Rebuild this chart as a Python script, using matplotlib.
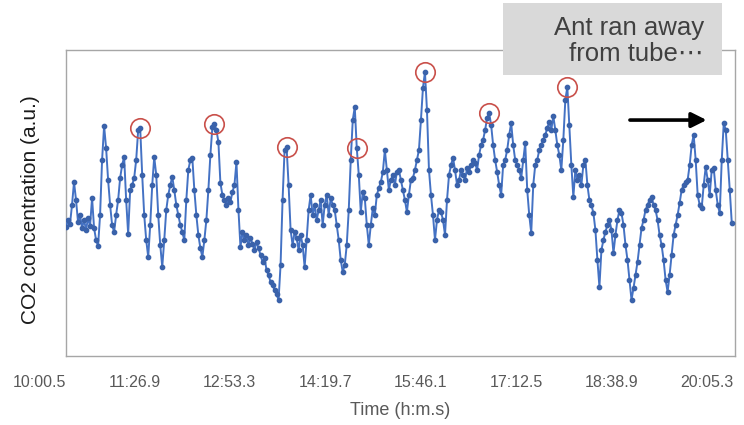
import numpy as np
import matplotlib
matplotlib.use('Agg')
from matplotlib import pyplot as plt
from matplotlib import transforms
from matplotlib.patches import Rectangle

# CO2 readings (a.u.), one every ~1.8 s
co2 = [129, 136, 132, 151, 174, 156, 134, 141, 128, 136, 126, 138, 130, 158, 128, 116,
       110, 141, 196, 230, 208, 176, 151, 131, 124, 141, 156, 178, 191, 199, 156, 122,
       166, 171, 178, 196, 226, 228, 181, 141, 116, 99, 131, 171, 199, 181, 141, 111,
       89, 116, 146, 161, 171, 179, 166, 151, 141, 131, 124, 116, 156, 186, 196, 198,
       166, 141, 121, 108, 99, 116, 136, 166, 201, 229, 232, 226, 214, 173, 161, 156,
       151, 158, 154, 164, 171, 194, 146, 109, 124, 116, 121, 111, 118, 112, 106, 114,
       108, 101, 94, 98, 86, 81, 74, 71, 66, 62, 56, 91, 156, 206, 209, 171,
       126, 111, 124, 118, 106, 121, 111, 89, 116, 146, 161, 141, 151, 136, 146, 156,
       131, 151, 161, 141, 158, 151, 146, 131, 116, 96, 84, 91, 111, 146, 196, 236,
       249, 208, 181, 144, 164, 158, 131, 111, 131, 148, 141, 161, 168, 174, 184, 206,
       186, 166, 176, 181, 171, 184, 186, 176, 166, 156, 144, 161, 176, 178, 186, 196,
       206, 236, 268, 284, 246, 186, 161, 141, 116, 136, 146, 144, 136, 121, 156, 181,
       191, 198, 186, 171, 176, 186, 181, 176, 188, 184, 191, 196, 193, 186, 201, 211,
       216, 226, 238, 243, 231, 211, 196, 184, 171, 161, 191, 196, 206, 221, 233, 211,
       196, 191, 186, 178, 196, 213, 166, 141, 123, 171, 191, 196, 206, 211, 216, 221,
       228, 234, 226, 240, 226, 211, 201, 186, 216, 256, 269, 231, 191, 159, 186, 176,
       181, 171, 191, 196, 171, 156, 151, 143, 126, 96, 69, 106, 116, 124, 131, 136,
       126, 103, 121, 136, 146, 143, 131, 111, 96, 76, 56, 68, 81, 94, 111, 128,
       136, 146, 151, 156, 159, 151, 146, 136, 121, 111, 96, 76, 64, 81, 101, 121,
       131, 141, 153, 166, 171, 174, 176, 191, 211, 221, 196, 161, 151, 148, 171, 189,
       176, 161, 186, 188, 166, 151, 143, 196, 233, 226, 196, 166, 133]

# circled peaks (indices into co2)
peak_idx = [37, 74, 110, 145, 179, 211, 250]

sample_step = 1.816  # s
tick_pos = [0, 86.4, 172.8, 259.2, 345.6, 432.0, 518.4, 604.8]
tick_labels = ['10:00.5', '11:26.9', '12:53.3', '14:19.7',
               '15:46.1', '17:12.5', '18:38.9', '20:05.3']

co2 = np.array(co2)
t = np.arange(len(co2)) * sample_step

fig = plt.figure(figsize=(7.44, 4.25), dpi=100)
ax = fig.add_axes([0.0887, 0.1624, 0.899, 0.72])

ax.plot(t, co2, color='#4472C4', lw=1.4, marker='o', ms=3.1,
        mfc='#3A62AA', mec='#3A62AA', zorder=3)
ax.plot(t[peak_idx], co2[peak_idx], ls='none', marker='o', ms=14,
        mfc='none', mec='#C9504A', mew=1.2, zorder=4)

ax.set_xlim(0, 605.7)
ax.set_ylim(0, 306)
ax.set_yticks([])
ax.set_xticks(tick_pos)
ax.set_xticklabels(tick_labels, fontsize=11.5, color='#595959',
                   family='Liberation Sans')
ax.tick_params(axis='x', length=0, pad=14)
shift = transforms.ScaledTranslation(-0.27, 0, fig.dpi_scale_trans)
for lab in ax.get_xticklabels():
    lab.set_transform(lab.get_transform() + shift)

for s in ax.spines.values():
    s.set_color('#A6A6A6')
    s.set_linewidth(1.0)

ax.set_xlabel('Time (h:m.s)', fontsize=13, color='#595959', family='Liberation Sans')
ax.xaxis.set_label_coords(0.5, -0.15)
ax.set_ylabel('CO2 concentration (a.u.)', fontsize=15, color='#1a1a1a',
              family='Liberation Sans')
ax.yaxis.set_label_coords(-0.039, 0.477)

# note box and arrow
fig.patches.append(Rectangle((503 / 744, 1 - 75 / 425), 219 / 744, 72 / 425,
                             transform=fig.transFigure, facecolor='#D9D9D9',
                             edgecolor='none', zorder=5))
fig.text(704 / 744, 1 - 41 / 425, 'Ant ran away\nfrom tube\u22ef', ha='right',
         va='center', fontsize=18.5, color='#404040', linespacing=1.12,
         family=['Liberation Sans', 'DejaVu Sans'], zorder=6)
ax.annotate('', xy=(0.962, 0.771), xytext=(0.839, 0.771),
            xycoords='axes fraction', textcoords='axes fraction',
            arrowprops=dict(arrowstyle='-|>,head_length=0.9,head_width=0.45',
                            color='black', lw=2.6))

fig.savefig('out.png', dpi=100)
